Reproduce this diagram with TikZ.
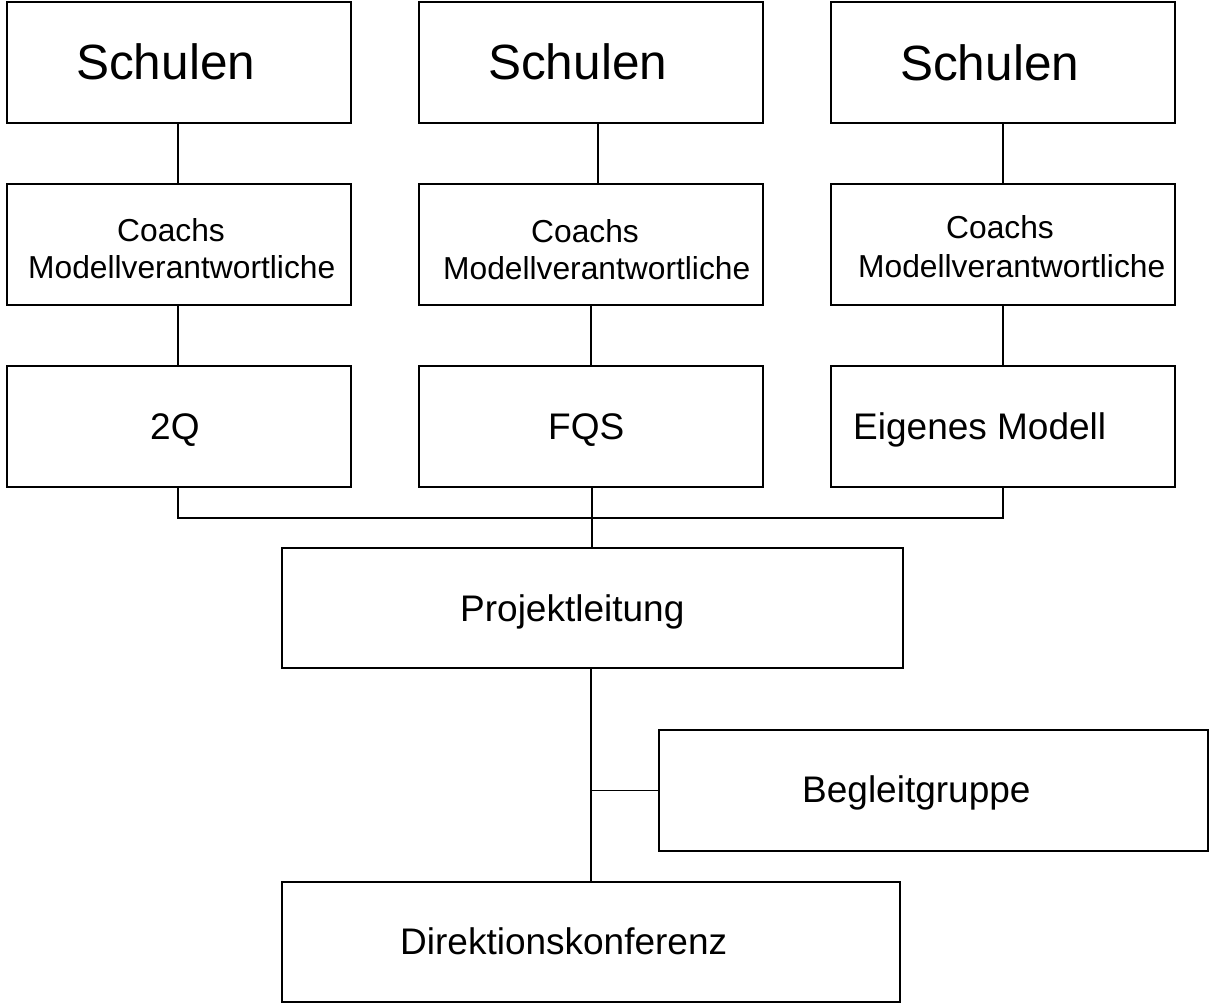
\documentclass[tikz,border=0pt]{standalone}
\usepackage{fontspec}
\setmainfont{Liberation Sans}
\begin{document}
\begin{tikzpicture}[x=1pt,y=-1pt,
  box/.style={draw=black,line width=1.6pt,rectangle,inner sep=0pt,fill=white},
  wide/.style={box,minimum width=344pt,minimum height=121pt},
  conn/.style={draw=black,line width=1.6pt},
  lbl/.style={anchor=base west,inner sep=0pt},
  big/.style={lbl,font=\fontsize{49.5}{50}\selectfont},
  mid/.style={lbl,font=\fontsize{37}{40}\selectfont},
  small/.style={lbl,font=\fontsize{31.75}{34}\selectfont}]
\useasboundingbox (0,0) rectangle (1209,1003);
% top row
\node[wide] (s1) at (179,62.5) {};
\node[wide] (s2) at (591,62.5) {};
\node[wide] (s3) at (1003,62.5) {};
% coach row
\node[wide] (c1) at (179,244.5) {};
\node[wide] (c2) at (591,244.5) {};
\node[wide] (c3) at (1003,244.5) {};
% model row
\node[wide] (q1) at (179,426.5) {};
\node[wide] (q2) at (591,426.5) {};
\node[wide] (q3) at (1003,426.5) {};
% lower boxes
\node[box,minimum width=621pt,minimum height=120pt] (pl) at (592.5,608) {};
\node[box,minimum width=549pt,minimum height=121pt] (bg) at (933.5,790.5) {};
\node[box,minimum width=618pt,minimum height=120pt] (dk) at (591,942) {};
% texts
\node[big] (t1) at (76,80) {Schulen};
\node[big] (t2) at (488,80) {Schulen};
\node[big] (t3) at (900,81) {Schulen};
\node[small] (ca1) at (117,241) {Coachs};
\node[small] (cb1) at (28,278) {Modellverantwortliche};
\node[small] (ca2) at (531,242) {Coachs};
\node[small] (cb2) at (443,279) {Modellverantwortliche};
\node[small] (ca3) at (946,238) {Coachs};
\node[small] (cb3) at (858,277) {Modellverantwortliche};
\node[mid] (m1) at (150,439) {2Q};
\node[mid] (m2) at (548,439) {FQS};
\node[mid] (m3) at (853,439) {Eigenes Modell};
\node[mid] (tp) at (460,621) {Projektleitung};
\node[mid] (tb) at (802,802) {Begleitgruppe};
\node[mid] (td) at (400,954) {Direktionskonferenz};
% connectors
\draw[conn] ([xshift=-1pt]s1.south) -- ([xshift=-1pt]c1.north);
\draw[conn] ([xshift=7pt]s2.south) -- ([xshift=7pt]c2.north);
\draw[conn] (s3.south) -- (c3.north);
\draw[conn] ([xshift=-1pt]c1.south) -- ([xshift=-1pt]q1.north);
\draw[conn] (c2.south) -- (q2.north);
\draw[conn] (c3.south) -- (q3.north);
\coordinate (bus) at (592,518);
\draw[conn] ([xshift=-1pt]q1.south) |- (bus) -| (q3.south);
\draw[conn] ([xshift=1pt]q2.south) -- (pl.north -| bus);
\draw[conn] (pl.south -| dk.north) -- (dk.north);
\draw[conn] (dk.north |- bg.west) -- (bg.west);
\end{tikzpicture}
\end{document}
